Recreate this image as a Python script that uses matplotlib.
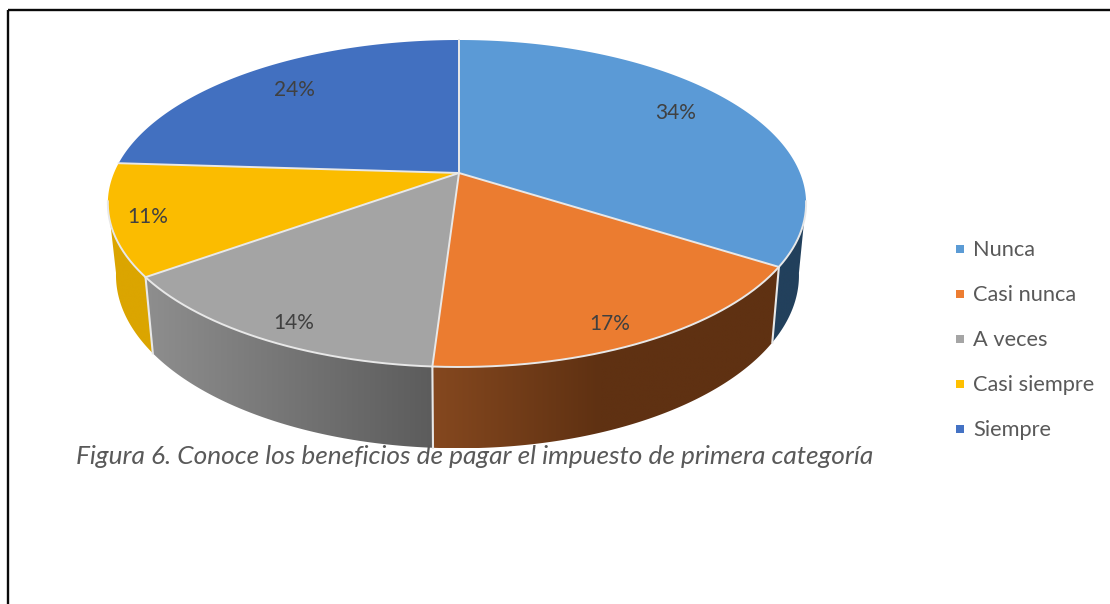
import numpy as np
import matplotlib
matplotlib.use("Agg")
import matplotlib.pyplot as plt
from matplotlib.colors import to_rgb
from matplotlib.patches import Polygon, Rectangle

categories = ["Nunca", "Casi nunca", "A veces", "Casi siempre", "Siempre"]
values = [34, 17, 14, 11, 24]
labels = ["34%", "17%", "14%", "11%", "24%"]
top_colors = ["#5B9AD6", "#EB7C30", "#A4A4A4", "#FBBC00", "#4270C0"]
legend_colors = ["#5B9BD5", "#ED7D31", "#A5A5A5", "#FFC000", "#4472C4"]
caption = "Figura 6. Conoce los beneficios de pagar el impuesto de primera categoría"

# wall colours: colour at the left end and right end of each visible wall
wall_left = ["#22405C", "#85481F", "#8E8E8E", "#DBA500", "#264478"]
wall_right = ["#22405C", "#5F3112", "#5C5C5C", "#DBA500", "#264478"]
wall_fade_x = [800, 600, 432, 150, 460]

label_x = [676, 610, 294, 148, 294]
label_y = [113, 324, 323, 217, 90]
legend_y = [250, 295, 340, 385, 430]

# perspective of the pie disc, in image pixels
APEX_X, APEX_Y = 459, 173
TILT = 0.1865
A_RIGHT, A_LEFT = 341, 345
B_TOP = 157.8
A_BOTTOM_RIGHT, A_BOTTOM_LEFT = 334, 337
B_BOTTOM = 167
Y_BOTTOM = 243
SEAM = "#E8E8E8"
# angles where the walls leave the silhouette of the disc
WALL_FROM, WALL_TO = np.radians(100), np.radians(260)


def top_ring(theta):
    s, c = np.sin(theta), np.cos(theta)
    den = 1 + TILT * c
    a = np.where(s >= 0, A_RIGHT, A_LEFT)
    return APEX_X + a * s / den, APEX_Y - B_TOP * c / den


def bottom_ring(theta):
    s, c = np.sin(theta), np.cos(theta)
    den = 1 + TILT * c
    a = np.where(s >= 0, A_BOTTOM_RIGHT, A_BOTTOM_LEFT)
    return APEX_X + a * s / den, Y_BOTTOM - B_BOTTOM * c / den


plt.rcParams["font.family"] = ["Lato", "DejaVu Sans"]

fig = plt.figure(figsize=(11.1, 6.04), dpi=100)
ax = fig.add_axes([0, 0, 1, 1])

# outer frame, cut by the right and bottom of the picture
ax.add_patch(Rectangle((8, 10), 1200, 700, fill=False, edgecolor="#0A0A0A", linewidth=1.7, zorder=1))

edges = np.radians(np.cumsum([0] + values) * 3.6)

# side walls, only the front of the pie shows
for i in range(len(values)):
    start, end = max(edges[i], WALL_FROM), min(edges[i + 1], WALL_TO)
    if end <= start:
        continue
    t = np.linspace(start, end, 200)
    xt, yt = top_ring(t)
    xb, yb = bottom_ring(t)
    pts = np.column_stack([np.r_[xt, xb[::-1]], np.r_[yt, yb[::-1]]])
    x_min, x_max = pts[:, 0].min(), pts[:, 0].max()
    y_min, y_max = pts[:, 1].min(), pts[:, 1].max()

    # horizontal gradient, clipped to the shape of the wall
    columns = np.linspace(x_min, x_max, 256)
    frac = np.clip((columns - x_min) / max(abs(wall_fade_x[i] - x_min), 1), 0, 1)[None, :, None]
    c1 = np.array(to_rgb(wall_left[i]))[None, None, :]
    c2 = np.array(to_rgb(wall_right[i]))[None, None, :]
    img = ax.imshow(c1 + (c2 - c1) * frac, extent=(x_min, x_max, y_max, y_min),
                    aspect="auto", interpolation="bilinear", zorder=2)
    img.set_clip_path(Polygon(pts, closed=True, transform=ax.transData))

# light seams between the walls
for e in edges:
    if WALL_FROM < e < WALL_TO:
        xt, yt = top_ring(np.array([e]))
        xb, yb = bottom_ring(np.array([e]))
        ax.plot([xt[0], xb[0]], [yt[0], yb[0]], color=SEAM, linewidth=1.5, zorder=3)

# top of the pie
for i in range(len(values)):
    t = np.linspace(edges[i], edges[i + 1], 200)
    xt, yt = top_ring(t)
    pts = np.column_stack([np.r_[APEX_X, xt], np.r_[APEX_Y, yt]])
    ax.add_patch(Polygon(pts, closed=True, facecolor=top_colors[i], edgecolor="none", zorder=4))

# seams on the top: spokes all round, rim only at the front
for e in edges:
    xt, yt = top_ring(np.array([e]))
    ax.plot([APEX_X, xt[0]], [APEX_Y, yt[0]], color=SEAM, linewidth=1.4, zorder=5)
t = np.linspace(WALL_FROM, WALL_TO, 300)
xt, yt = top_ring(t)
ax.plot(xt, yt, color=SEAM, linewidth=1.4, zorder=5)

for x, y, text in zip(label_x, label_y, labels):
    ax.text(x, y, text, fontsize=15, color="#404040", ha="center", va="center", zorder=6)

ax.text(475, 456, caption, fontsize=18.9, style="italic", color="#595959", ha="center", va="center", zorder=6)

# legend
for name, color, y in zip(categories, legend_colors, legend_y):
    ax.scatter([960], [y - 1], marker="s", s=32, color=color, linewidths=0, zorder=6)
    ax.text(973, y, name, fontsize=15.7, color="#595959", ha="left", va="center", zorder=6)

ax.set_xlim(0, 1110)
ax.set_ylim(604, 0)
ax.axis("off")

fig.savefig("out.png", dpi=100)
